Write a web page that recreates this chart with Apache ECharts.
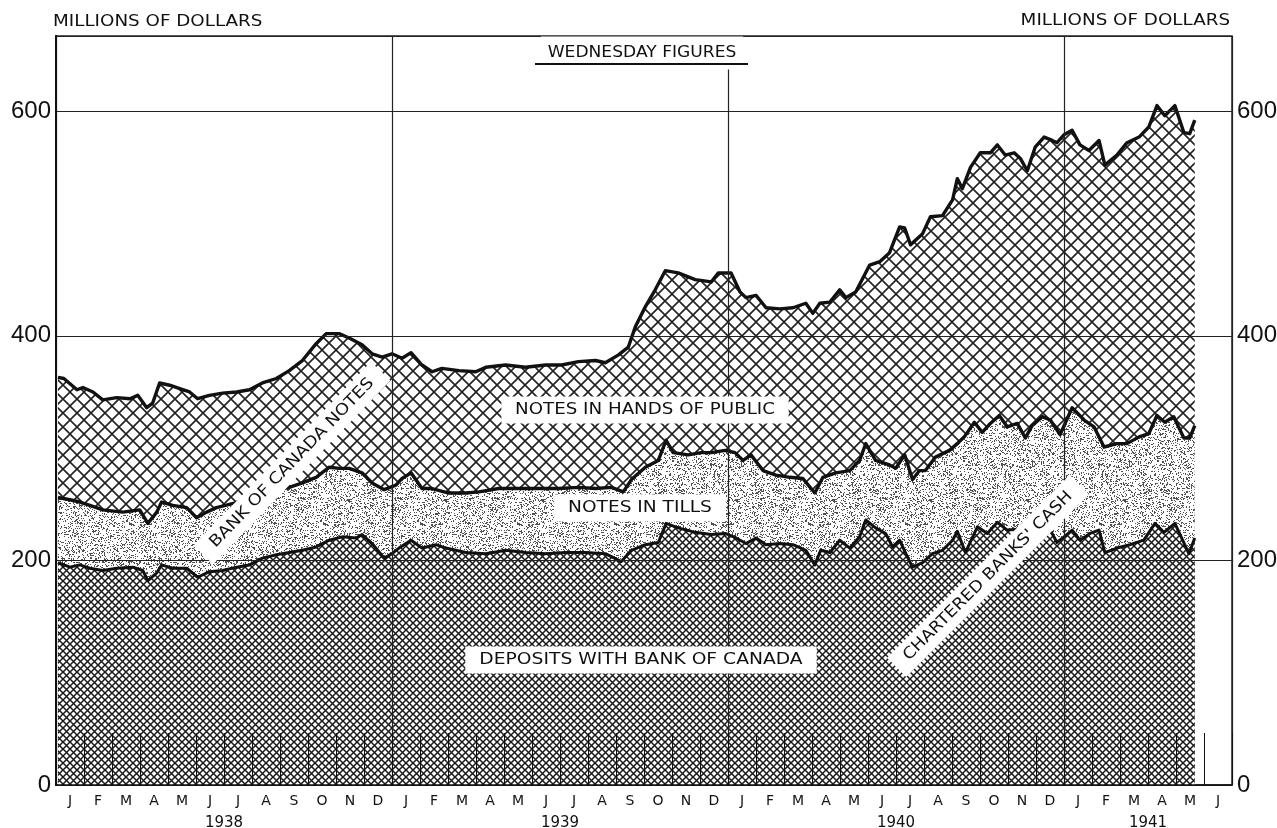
<!DOCTYPE html>
<html>
<head>
<meta charset="utf-8">
<title>Chartered banks' cash - Wednesday figures</title>
<script src="https://cdn.jsdelivr.net/npm/echarts@6/dist/echarts.min.js"></script>
<style>
  html, body { margin: 0; padding: 0; background: #fff; overflow: hidden; }
  #chart { width: 1277px; height: 828px; }
</style>
</head>
<body>
<div id="chart"></div>
<script>
// x positions are months counted from 1 Jan 1938 (weekly Wednesday readings)
// top line: Bank of Canada notes (chartered banks' cash + notes in hands of public)
const notesPos = [0.07,0.28,0.75,0.96,1.32,1.67,2.17,2.64,2.92,3.24,3.45,3.70,4.06,4.42,4.77,5.06,5.48,5.95,6.45,6.91,7.37,7.87,8.33,8.80,9.29,9.65,10.11,10.47,10.93,11.29,11.65,12.00,
  12.36,12.68,13.07,13.43,13.78,14.39,14.99,15.35,16.06,16.77,17.49,18.06,18.66,19.27,19.62,20.09,20.44,20.69,21.05,21.40,21.76,22.22,22.83,23.40,23.65,24.11,
  24.43,24.64,25.00,25.36,25.85,26.32,26.78,27.03,27.28,27.64,27.99,28.21,28.56,29.06,29.42,29.77,30.13,30.31,30.52,30.95,31.23,31.66,32.02,32.19,32.37,32.66,33.01,33.37,33.62,33.90,34.22,34.44,34.69,34.97,35.29,35.58,35.75,36.00,36.29,36.57,36.89,37.25,37.46,37.89,38.25,38.68,39.03,39.32,39.60,39.96,40.28,40.49,40.67];
const notesVal = [363,362,352,354,350,343,345,344,347,336,340,358,356,353,350,344,347,349,350,352,358,362,369,378,393,402,402,398,392,384,381,384,
  380,385,374,368,371,369,368,372,374,372,374,374,377,378,376,383,390,408,426,441,458,456,450,448,456,456,
  439,434,436,425,424,425,429,420,429,430,441,434,439,463,466,474,497,496,481,491,506,507,521,540,531,550,563,563,570,561,563,558,547,568,577,574,572,579,583,570,565,574,552,561,572,577,586,605,596,605,581,580,592];

// middle line: chartered banks' cash (deposits + notes in tills)
const cashPos = [0.07,0.50,0.85,1.21,1.67,2.39,2.99,3.28,3.60,3.77,4.17,4.67,5.02,5.38,5.73,6.37,7.09,7.80,8.33,8.80,9.29,9.76,10.11,10.47,10.93,11.29,11.72,
  12.14,12.36,12.68,13.07,13.43,14.03,14.64,15.10,15.81,16.52,17.24,17.95,18.66,19.27,19.84,20.26,20.55,21.05,21.51,21.79,22.04,22.58,23.04,23.40,23.90,
  24.25,24.54,24.82,25.25,25.71,26.21,26.67,27.10,27.39,27.85,28.35,28.70,28.92,29.27,29.77,29.99,30.31,30.59,30.84,31.05,31.41,31.91,32.19,32.44,32.80,33.08,33.37,33.69,33.97,34.33,34.62,34.86,35.22,35.51,35.86,
  36.29,36.72,37.07,37.43,37.89,38.25,38.68,39.03,39.32,39.60,39.92,40.28,40.49,40.67];
const cashVal = [256,254,252,249,245,243,245,233,243,252,249,247,238,243,247,251,257,262,265,269,274,283,282,282,278,269,263,
  267,273,278,264,264,260,260,261,264,264,264,264,265,264,265,261,272,283,289,307,296,294,296,296,298,
  296,289,294,280,276,274,273,260,274,278,280,289,304,289,285,282,294,272,280,280,292,298,304,310,323,314,322,329,319,322,309,320,328,325,312,
  336,325,319,301,304,304,310,313,329,323,328,309,309,320];

// bottom line: deposits with Bank of Canada
const depositPos = [0.07,0.50,0.85,1.21,1.67,2.17,2.74,3.10,3.28,3.60,3.77,4.17,4.67,5.06,5.48,5.95,6.45,6.91,7.37,7.87,8.33,8.80,9.29,9.76,10.22,10.72,10.93,11.29,11.72,12.00,
  12.25,12.68,13.07,13.57,13.92,14.64,15.35,16.06,16.77,17.49,18.20,18.91,19.62,20.19,20.55,21.05,21.51,21.79,22.22,22.83,23.40,23.90,
  24.29,24.64,25.00,25.36,25.85,26.32,26.78,27.10,27.31,27.64,27.99,28.35,28.70,28.92,29.27,29.63,29.88,30.13,30.41,30.59,30.95,31.30,31.66,32.02,32.19,32.48,32.91,33.26,33.62,33.97,34.51,35.04,35.51,35.75,
  36.00,36.29,36.57,36.93,37.25,37.46,37.89,38.36,38.85,39.25,39.57,39.96,40.46,40.67];
const depositVal = [198,194,196,193,191,193,194,191,182,189,196,193,193,185,190,191,194,196,202,205,207,209,212,218,221,220,223,215,202,206,
  211,218,211,214,211,207,206,209,207,206,207,207,206,199,209,214,216,233,229,225,223,224,
  220,215,220,214,215,214,209,196,209,207,218,211,221,236,229,224,212,218,203,194,198,206,209,218,226,207,230,224,234,227,228,230,227,216,
  221,227,218,224,227,207,211,214,218,233,225,233,206,220];

const monthLetters = ['J','F','M','A','M','J','J','A','S','O','N','D'];
const monthCount = 42;              // Jan 1938 .. Jun 1941
const years = ['1938', '1939', '1940', '1941'];
const yearCentres = [6, 18, 30, 39];
const yearStarts = 12;              // vertical rule every twelve months

const monthAxis = [];
for (let i = 0; i < monthCount; i++) monthAxis.push(monthLetters[i % 12]);

// fill textures
function hatch(size, width, color) {
  const c = document.createElement('canvas');
  c.width = c.height = size;
  const g = c.getContext('2d');
  g.fillStyle = '#fff';
  g.fillRect(0, 0, size, size);
  g.strokeStyle = color;
  g.lineWidth = width;
  g.beginPath();
  g.moveTo(-2, -2); g.lineTo(size + 2, size + 2);
  g.moveTo(size + 2, -2); g.lineTo(-2, size + 2);
  g.stroke();
  return c;
}
function stipple(size, density, ink) {
  const c = document.createElement('canvas');
  c.width = c.height = size;
  const g = c.getContext('2d');
  const img = g.createImageData(size, size);
  for (let y = 0; y < size; y++) {
    for (let x = 0; x < size; x++) {
      const s = Math.sin(x * 12.9898 + y * 78.233) * 43758.5453;
      const n = s - Math.floor(s);
      const v = n < density ? ink : 255;
      const k = (y * size + x) * 4;
      img.data[k] = img.data[k + 1] = img.data[k + 2] = v;
      img.data[k + 3] = 255;
    }
  }
  g.putImageData(img, 0, 0);
  return c;
}

function pairs(pos, val) {
  return pos.map((p, i) => [p, val[i]]);
}

const chart = echarts.init(document.getElementById('chart'));

const numFont = "'Liberation Sans', Arial, sans-serif";
const capFont = "'DejaVu Sans', sans-serif";

function boxLabel(text, x, y, size, stretch, angle) {
  return {
    type: 'text', x: x, y: y, z: 100, rotation: angle || 0, scaleX: stretch,
    style: {
      text: text, fontFamily: capFont, fontSize: size, fill: '#111',
      align: 'center', verticalAlign: 'middle',
      backgroundColor: '#fff', padding: [6, 12, 5, 12]
    }
  };
}

chart.setOption({
  animation: false,
  backgroundColor: '#fff',
  grid: {
    left: 56, right: 45, top: 36, bottom: 43,
    outerBoundsMode: 'none',
    show: true, borderColor: '#222', borderWidth: 1.5, backgroundColor: 'transparent'
  },
  xAxis: [
    {
      type: 'value', position: 'bottom', min: 0, max: monthCount, interval: yearStarts, z: 5,
      axisLine: { show: false }, axisTick: { show: false }, axisLabel: { show: false },
      splitLine: { show: true, lineStyle: { color: '#222', width: 1.2 } }
    },
    {
      type: 'category', position: 'bottom', data: monthAxis, boundaryGap: true, z: 6,
      axisLine: { show: true, lineStyle: { color: '#111', width: 1.5 } },
      axisTick: { show: true, inside: true, length: 52, interval: 0, lineStyle: { color: '#111', width: 1 } },
      axisLabel: { interval: 0, margin: 9, fontFamily: capFont, fontSize: 14, color: '#111' },
      splitLine: { show: false }
    },
    {
      type: 'value', position: 'bottom', min: 0, max: monthCount, interval: 1,
      axisLine: { show: false }, axisTick: { show: false }, splitLine: { show: false },
      axisLabel: {
        margin: 31, fontFamily: capFont, fontSize: 15, color: '#111',
        formatter: v => { const i = yearCentres.indexOf(v); return i >= 0 ? years[i] : ''; }
      }
    }
  ],
  yAxis: [
    {
      type: 'value', position: 'left', min: 0, max: 667, interval: 200, z: 5,
      axisLine: { show: true, lineStyle: { color: '#111', width: 2 } },
      axisTick: { show: false },
      axisLabel: { margin: 5, fontFamily: numFont, fontSize: 24, color: '#111',
        formatter: v => (v % 200 === 0 ? String(v) : '') },
      splitLine: { show: true, lineStyle: { color: '#222', width: 1.2 } }
    },
    {
      type: 'value', position: 'right', min: 0, max: 667, interval: 200, z: 5,
      axisLine: { show: true, lineStyle: { color: '#111', width: 1.5 } },
      axisTick: { show: false },
      axisLabel: { margin: 5, fontFamily: numFont, fontSize: 24, color: '#111',
        formatter: v => (v % 200 === 0 ? String(v) : '') },
      splitLine: { show: false }
    }
  ],
  series: [
    {
      name: 'Bank of Canada notes', type: 'line', xAxisIndex: 0, yAxisIndex: 0,
      data: pairs(notesPos, notesVal), symbol: 'none', z: 2,
      lineStyle: { color: '#111', width: 3.4, join: 'round' },
      areaStyle: { color: { image: hatch(14, 1.6, '#222'), repeat: 'repeat' }, opacity: 1, origin: 'start' }
    },
    {
      name: "Chartered banks' cash", type: 'line', xAxisIndex: 0, yAxisIndex: 0,
      data: pairs(cashPos, cashVal), symbol: 'none', z: 3,
      lineStyle: { color: '#111', width: 3.4, join: 'round' },
      areaStyle: { color: { image: stipple(97, 0.24, 80), repeat: 'repeat' }, opacity: 1, origin: 'start' }
    },
    {
      name: 'Deposits with Bank of Canada', type: 'line', xAxisIndex: 0, yAxisIndex: 0,
      data: pairs(depositPos, depositVal), symbol: 'none', z: 4,
      lineStyle: { color: '#111', width: 3, join: 'round' },
      areaStyle: { color: { image: hatch(7, 1.5, '#1a1a1a'), repeat: 'repeat' }, opacity: 1, origin: 'start' }
    }
  ],
  graphic: [
    { type: 'text', x: 53, y: 22, z: 100, scaleX: 1.22,
      style: { text: 'MILLIONS OF DOLLARS', fontFamily: capFont, fontSize: 15, fill: '#111', align: 'left', verticalAlign: 'middle' } },
    { type: 'text', x: 1230, y: 21, z: 100, scaleX: 1.22,
      style: { text: 'MILLIONS OF DOLLARS', fontFamily: capFont, fontSize: 15, fill: '#111', align: 'right', verticalAlign: 'middle' } },
    { type: 'text', x: 642, y: 53, z: 100, scaleX: 1.14,
      style: { text: 'WEDNESDAY FIGURES', fontFamily: capFont, fontSize: 15, fill: '#111', align: 'center', verticalAlign: 'middle',
        backgroundColor: '#fff', padding: [8, 6, 10, 6] } },
    { type: 'line', z: 101, shape: { x1: 535, y1: 64, x2: 748, y2: 64 }, style: { stroke: '#111', lineWidth: 2 } },
    boxLabel('NOTES IN HANDS OF PUBLIC', 645, 410, 16, 1.14),
    boxLabel('NOTES IN TILLS', 640, 508, 16, 1.16),
    boxLabel('DEPOSITS WITH BANK OF CANADA', 641, 660, 16, 1.17),
    boxLabel('BANK OF CANADA NOTES', 292, 463, 16, 1.12, Math.PI * 46 / 180),
    boxLabel("CHARTERED BANKS' CASH", 988, 576, 16, 1.1, Math.PI / 4)
  ]
});
</script>
</body>
</html>
